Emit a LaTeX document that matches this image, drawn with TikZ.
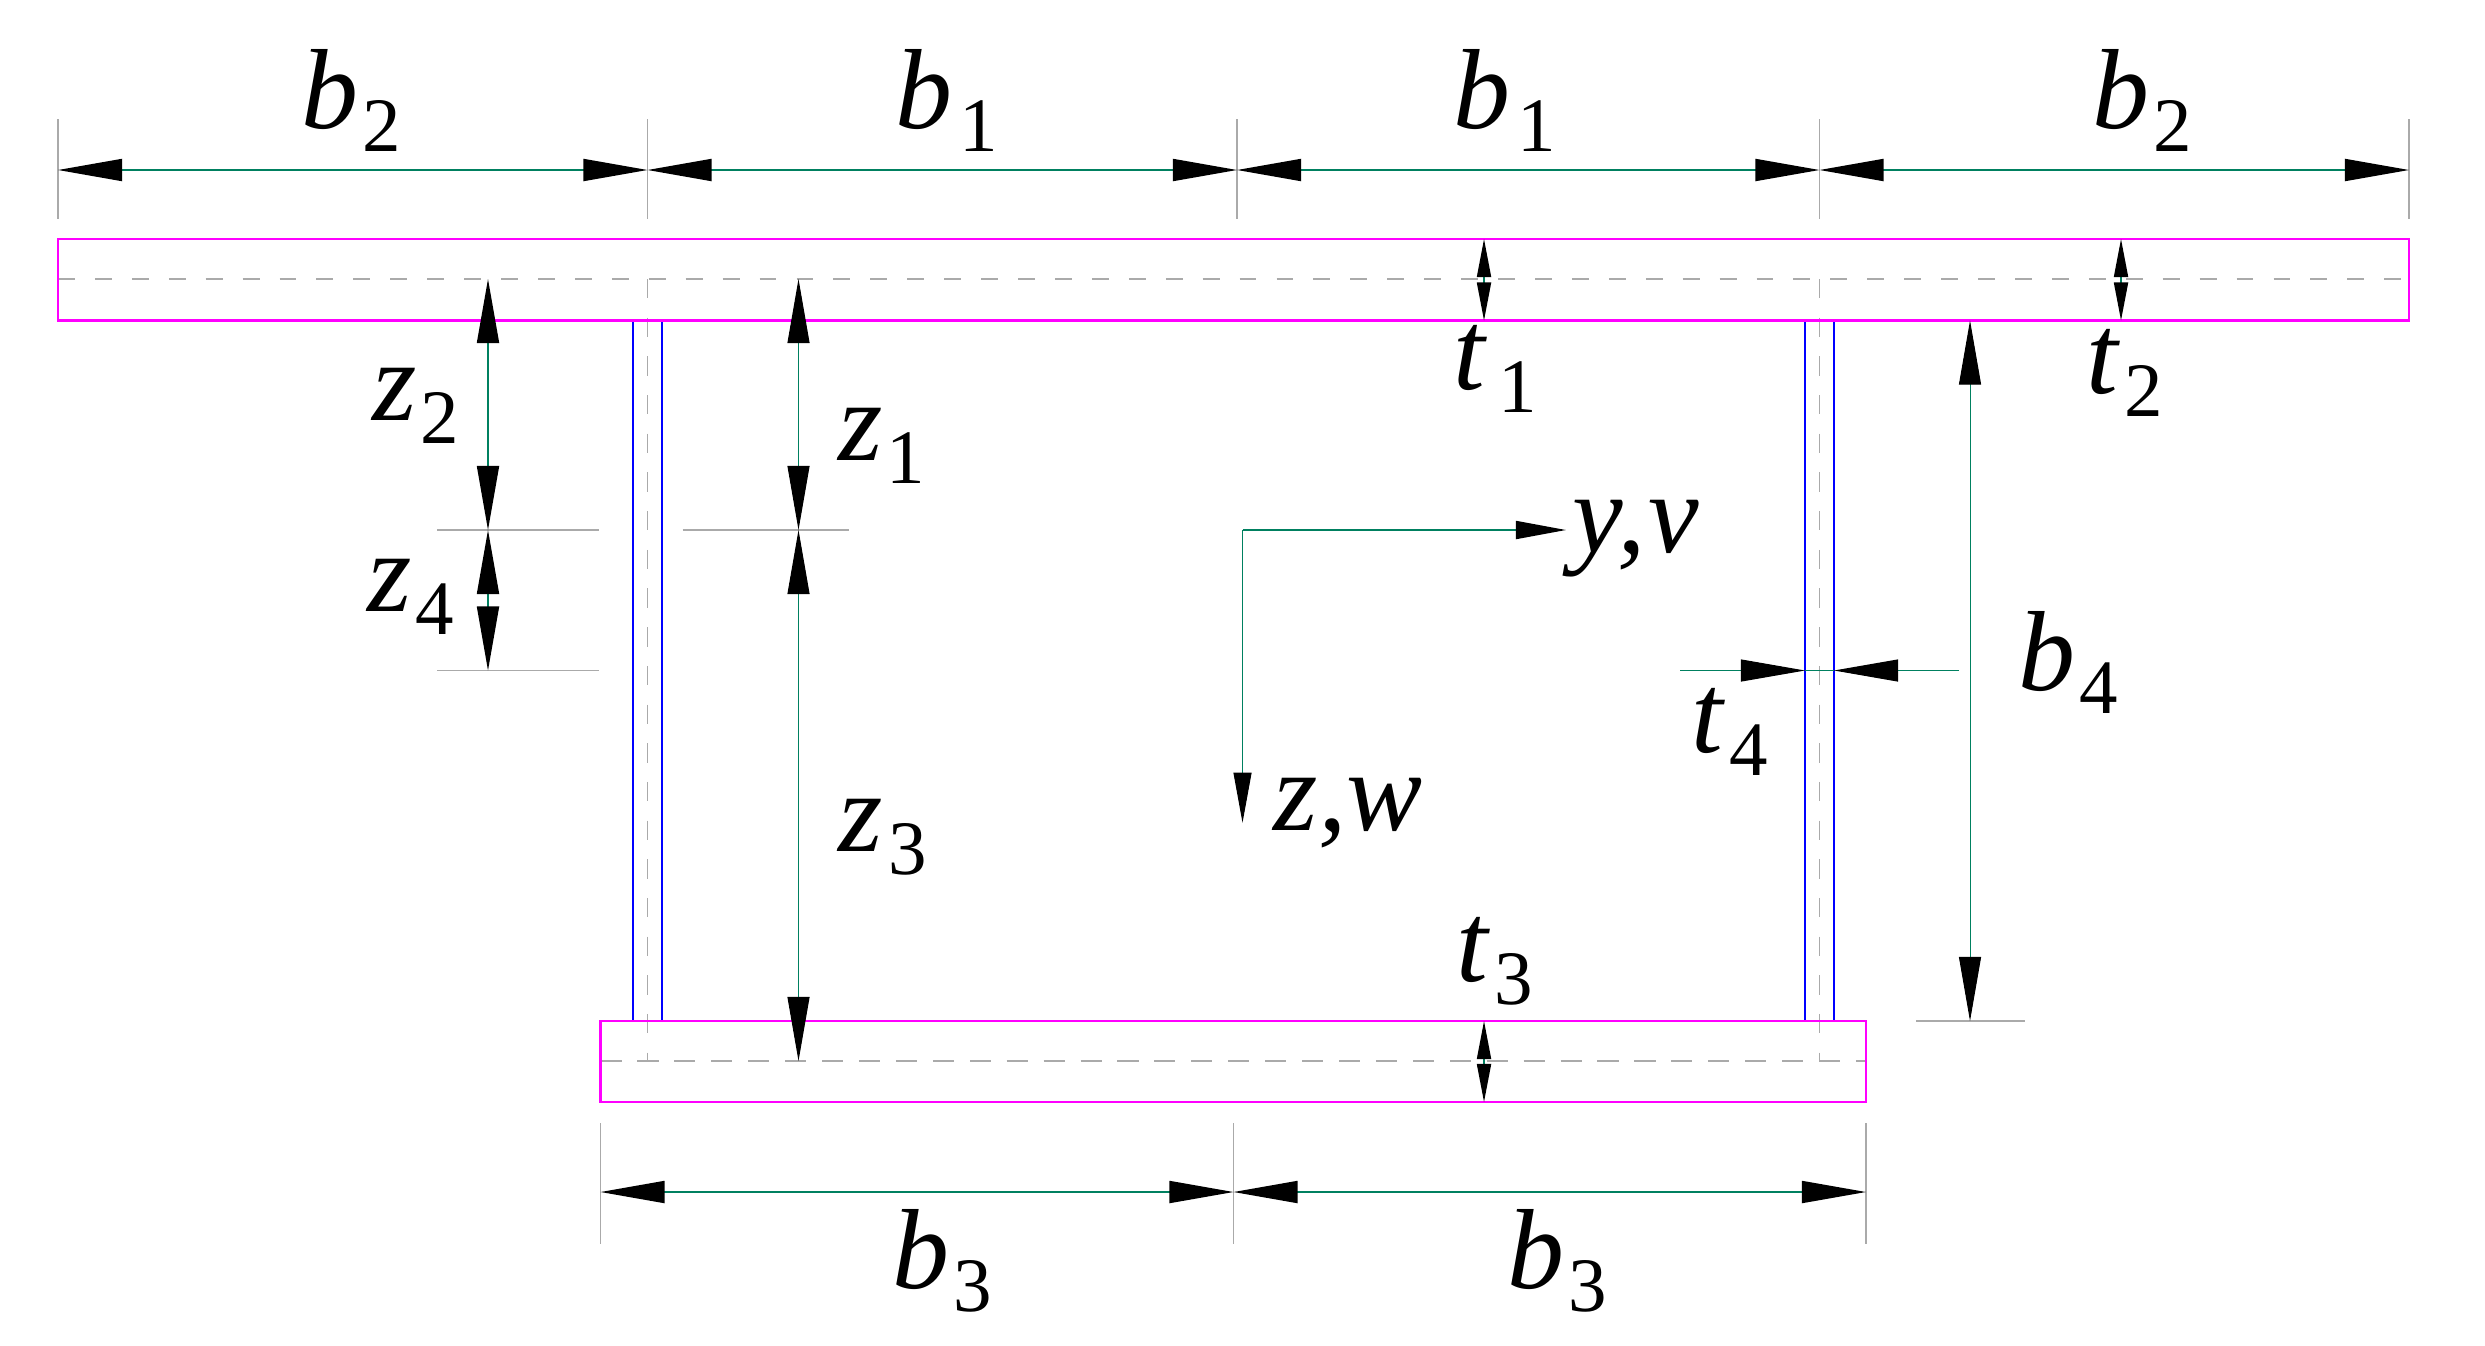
\documentclass[tikz,border=0pt]{standalone}
\usepackage{fontspec}
\setmainfont{Liberation Serif}
\usetikzlibrary{arrows.meta}
\newcommand{\dimlbl}[3][1pt]{\textit{#2}\kern#1\raisebox{-2.3mm}{\fontsize{21.9}{22}\selectfont #3}}
\definecolor{dimgreen}{RGB}{0,128,96}
\definecolor{flangecol}{RGB}{255,0,255}
\definecolor{webcol}{RGB}{0,0,255}
\definecolor{linegrey}{RGB}{170,170,170}
\tikzset{
  flange/.style={draw=flangecol,line width=0.6pt},
  web/.style={draw=webcol,line width=0.6pt},
  centre/.style={draw=linegrey,line width=0.4pt,dash pattern=on 4.8pt off 5.7pt},
  extline/.style={draw=linegrey,line width=0.4pt},
  dimline/.style={draw=dimgreen,line width=0.5pt},
  dimthin/.style={line width=0.28pt},
  dimboth/.style={dimline,{Triangle[length=6.4mm,width=2.2mm,fill=black,color=black]}-{Triangle[length=6.4mm,width=2.2mm,fill=black,color=black]}},
  dimend/.style={dimline,-{Triangle[length=6.4mm,width=2.2mm,fill=black,color=black]}},
  dimsmall/.style={dimline,-{Triangle[length=3.8mm,width=1.4mm,fill=black,color=black]}},
  axisline/.style={dimline,-{Triangle[length=5mm,width=1.8mm,fill=black,color=black]}},
  dimtext/.style={anchor=base west,inner sep=0pt,font=\fontsize{32.4}{34}\selectfont},
}
\begin{document}
\begin{tikzpicture}[x=0.01cm,y=0.01cm]
\useasboundingbox (0,0) rectangle (2485,-1345);
% centre lines
\draw [centre] (58,-279) -- (2409,-279);
\draw [centre,dash pattern=on 6pt off 4.5pt] (600.5,-1061) -- (1866,-1061);
\draw [centre,dash pattern=on 5.5pt off 5.5pt] (647.5,-279) -- (647.5,-1061);
\draw [centre,dash pattern=on 5.5pt off 5.5pt] (1819.5,-279) -- (1819.5,-1061);
% section
\draw [web] (633,-320.5) rectangle (662,-1021);
\draw [web] (1805,-320.5) rectangle (1834,-1021);
\draw [flange] (58,-239) rectangle (2409,-320.5);
\draw [flange] (600.5,-1021) rectangle (1866,-1102);
% extension lines
\foreach \x in {58,647.5,1237,1819.5,2409}
  \draw [extline] (\x,-119) -- (\x,-219);
\foreach \x in {600.5,1233.5,1866}
  \draw [extline] (\x,-1123) -- (\x,-1244);
\draw [extline] (437,-530) -- (599,-530);
\draw [extline] (682.5,-530) -- (848.5,-530);
\draw [extline] (437,-670.5) -- (599,-670.5);
\draw [extline] (1916,-1021) -- (2025,-1021);
% top dimensions
\coordinate (ta) at (58,-170);
\coordinate (tb) at (647.5,-170);
\coordinate (tc) at (1237,-170);
\coordinate (td) at (1819.5,-170);
\coordinate (te) at (2409,-170);
\draw [dimboth] (ta) -- (tb);
\draw [dimboth] (tb) -- (tc);
\draw [dimboth] (tc) -- (td);
\draw [dimboth] (td) -- (te);
% bottom dimensions
\coordinate (ba) at (600.5,-1192);
\coordinate (bb) at (1233.5,-1192);
\coordinate (bc) at (1866,-1192);
\draw [dimboth] (ba) -- (bb);
\draw [dimboth] (bb) -- (bc);
% z dimensions
\coordinate (zz2a) at (488,-279);
\coordinate (zz2b) at (488,-530);
\coordinate (zz4b) at (488,-670.5);
\coordinate (zz1a) at (798.5,-279);
\coordinate (zz1b) at (798.5,-530);
\coordinate (zz3b) at (798.5,-1061);
\draw [dimboth] (zz2a) -- (zz2b);
\draw [dimboth] (zz2b) -- (zz4b);
\draw [dimboth,dimthin] (zz1a) -- (zz1b);
\draw [dimboth,dimthin] (zz1b) -- (zz3b);
% b4
\coordinate (bfa) at (1970,-320.5);
\coordinate (bfb) at (1970,-1021);
\draw [dimboth,dimthin] (bfa) -- (bfb);
% thicknesses
\coordinate (tca) at (1484,-239);
\coordinate (tcm) at (1484,-279);
\coordinate (tcb) at (1484,-320.5);
\draw [dimsmall] (tcm) -- (tca);
\draw [dimsmall] (tcm) -- (tcb);
\coordinate (tda) at (2121,-239);
\coordinate (tdm) at (2121,-279);
\coordinate (tdb) at (2121,-320.5);
\draw [dimsmall] (tdm) -- (tda);
\draw [dimsmall] (tdm) -- (tdb);
\coordinate (tea) at (1484,-1021);
\coordinate (tem) at (1484,-1061);
\coordinate (teb) at (1484,-1102);
\draw [dimsmall] (tem) -- (tea);
\draw [dimsmall] (tem) -- (teb);
\coordinate (tfa) at (1680,-670.5);
\coordinate (tfb) at (1805,-670.5);
\coordinate (tfc) at (1834,-670.5);
\coordinate (tfd) at (1959,-670.5);
\draw [dimend,dimthin] (tfa) -- (tfb);
\draw [dimend,dimthin] (tfd) -- (tfc);
\draw [dimline,dimthin] (tfb) -- (tfc);
% axes
\coordinate (orig) at (1242.5,-530);
\coordinate (axy) at (1566,-530);
\coordinate (axz) at (1242.5,-822.7);
\draw [axisline] (orig) -- (axy);
\draw [axisline,dimthin] (orig) -- (axz);
% labels
\node (lbbl) [dimtext] at (301,-128) {\dimlbl{b}{2}};
\node (lbal) [dimtext] at (895,-128) {\dimlbl[2pt]{b}{1}};
\node (lbar) [dimtext] at (1453,-128) {\dimlbl[2pt]{b}{1}};
\node (lbbr) [dimtext] at (2092,-128) {\dimlbl{b}{2}};
\node (lta) [dimtext] at (1453,-389) {\dimlbl[3pt]{t}{1}};
\node (ltb) [dimtext] at (2086,-393) {\dimlbl{t}{2}};
\node (ltc) [dimtext] at (1456,-981) {\dimlbl{t}{3}};
\node (ltd) [dimtext] at (1691,-752) {\dimlbl{t}{4}};
\node (lbd) [dimtext] at (2018,-690) {\dimlbl{b}{4}};
\node (lbcl) [dimtext] at (892,-1288) {\dimlbl{b}{3}};
\node (lbcr) [dimtext] at (1507,-1288) {\dimlbl{b}{3}};
\node (lzb) [dimtext] at (372,-420.5) {\dimlbl{z}{2}};
\node (lzd) [dimtext] at (367,-611.6) {\dimlbl{z}{4}};
\node (lza) [dimtext] at (838,-460) {\dimlbl{z}{1}};
\node (lzc) [dimtext] at (838,-851) {\dimlbl[1.5pt]{z}{3}};
\node (lyv) [dimtext] at (1572,-552.7) {\textit{y,\kern1pt v}};
\node (lzw) [dimtext] at (1273,-830) {\textit{z,w}};
\end{tikzpicture}
\end{document}
